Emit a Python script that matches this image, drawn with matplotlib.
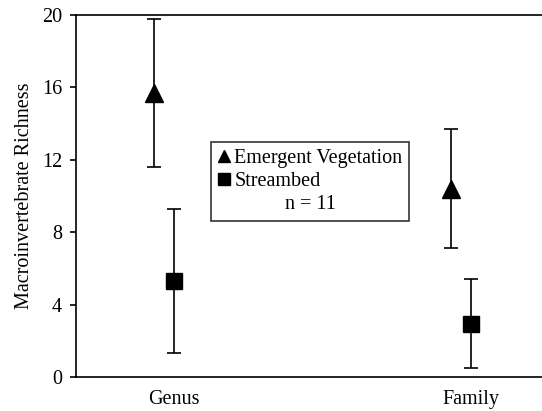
import matplotlib.pyplot as plt
from matplotlib.lines import Line2D

# data
categories = ['Genus', 'Family']
veg_mean = [15.7, 10.4]
veg_err = [4.1, 3.3]
bed_mean = [5.3, 2.95]
bed_err = [4.0, 2.45]

plt.rcParams['font.family'] = ['Liberation Serif', 'DejaVu Serif']

fig = plt.figure(figsize=(5.42, 4.11), dpi=100)
ax = fig.add_axes([0.1402, 0.0827, 0.8598, 0.8808])

xpos = [1, 2]
off = 0.035
ax.errorbar([x - off for x in xpos], veg_mean, yerr=veg_err, fmt='^', color='black',
            markersize=13, capsize=5, elinewidth=1.2, capthick=1.2)
ax.errorbar([x + off for x in xpos], bed_mean, yerr=bed_err, fmt='s', color='black',
            markersize=12, capsize=5, elinewidth=1.2, capthick=1.2)

ax.set_xlim(0.704, 2.273)
ax.set_ylim(0, 20)
ax.set_yticks(range(0, 21, 4))
ax.set_xticks([x + off for x in xpos])
ax.set_xticklabels(categories)
ax.tick_params(axis='x', length=0, pad=9, labelsize=14.5)
ax.tick_params(axis='y', length=4, width=1.2, labelsize=14.5, pad=6)
ax.spines['right'].set_visible(False)
for s in ['left', 'top', 'bottom']:
    ax.spines[s].set_linewidth(1.2)
ax.set_ylabel('Macroinvertebrate Richness', fontsize=14.5, labelpad=6)

handles = [Line2D([], [], marker='^', color='black', linestyle='none', markersize=8),
           Line2D([], [], marker='s', color='black', linestyle='none', markersize=8)]
leg = ax.legend(handles, ['Emergent Vegetation', 'Streambed'], title='n = 11',
                loc='upper left', bbox_to_anchor=(0.29, 0.65), fontsize=14.5,
                title_fontsize=14.5, frameon=True, fancybox=False, edgecolor='black',
                handlelength=0.6, handletextpad=0.2, borderpad=0.35, labelspacing=0.2,
                borderaxespad=0)
leg.get_frame().set_linewidth(1.2)
# put the "n = 11" line below the entries
leg._legend_box._children.reverse()

fig.savefig('out.png', dpi=100)
